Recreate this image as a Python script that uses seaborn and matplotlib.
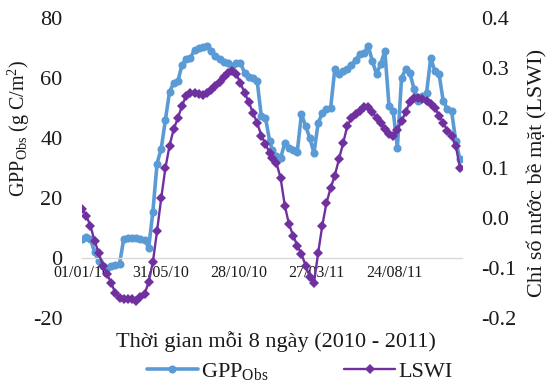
import numpy as np
import pandas as pd
import matplotlib
matplotlib.use("Agg")
import matplotlib.pyplot as plt
import matplotlib.dates as mdates
from matplotlib.ticker import FixedLocator, FuncFormatter
import seaborn as sns

# ---------------- data ----------------
# 8-day MODIS composites, 2010 - 2011 (46 per year)
dates_2010 = pd.date_range("2010-01-01", periods=46, freq="8D")
dates_2011 = pd.date_range("2011-01-01", periods=46, freq="8D")
dates = list(dates_2010) + list(dates_2011)

gpp_obs = [6.5, 7.0, 6.5, 2.0, -1.0, -2.5, -3.3, -2.7, -2.3, -2.0,
           6.3, 6.7, 6.7, 6.7, 6.5, 6.0, 3.5, 15.5, 31.5, 36.5,
           46.0, 55.5, 58.3, 59.0, 64.5, 66.3, 66.7, 69.5, 70.0, 70.5,
           70.7, 69.0, 67.3, 66.3, 65.5, 65.0, 64.0, 65.0, 65.0, 61.7,
           60.5, 60.0, 59.0, 47.3, 46.7, 39.0, 36.0, 34.0, 33.3, 38.3,
           36.7, 36.0, 35.5, 48.0, 44.0, 40.0, 35.0, 45.0, 48.3, 49.7,
           50.0, 63.0, 61.3, 62.3, 63.0, 64.5, 66.0, 68.0, 68.3, 70.7,
           65.7, 61.3, 64.7, 69.0, 50.7, 49.0, 36.7, 60.0, 63.0, 61.7,
           56.3, 52.3, 54.0, 55.0, 66.7, 62.3, 61.3, 52.3, 49.7, 49.0,
           39.0, 33.0]

lswi = [0.018, 0.005, -0.015, -0.045, -0.070, -0.095, -0.112, -0.130, -0.150, -0.160,
        -0.162, -0.162, -0.162, -0.166, -0.158, -0.152, -0.128, -0.088, -0.026, 0.040,
        0.100, 0.145, 0.178, 0.200, 0.225, 0.245, 0.250, 0.250, 0.248, 0.246,
        0.250, 0.256, 0.264, 0.273, 0.282, 0.290, 0.294, 0.288, 0.270, 0.250,
        0.232, 0.210, 0.190, 0.165, 0.148, 0.130, 0.120, 0.110, 0.080, 0.025,
        -0.012, -0.035, -0.055, -0.072, -0.095, -0.118, -0.130, -0.070, -0.015, 0.030,
        0.060, 0.085, 0.118, 0.150, 0.184, 0.200, 0.208, 0.215, 0.222, 0.222,
        0.212, 0.200, 0.190, 0.178, 0.168, 0.165, 0.176, 0.194, 0.212, 0.232,
        0.240, 0.240, 0.238, 0.234, 0.228, 0.220, 0.205, 0.190, 0.175, 0.164,
        0.145, 0.100]

x_tick_dates = ["2010-01-01", "2010-05-31", "2010-10-28", "2011-03-27", "2011-08-24"]
left_ticks = [-20, 0, 20, 40, 60, 80]
right_ticks = [-0.2, -0.1, 0.0, 0.1, 0.2, 0.3, 0.4]

df = pd.DataFrame({"date": dates, "gpp": gpp_obs, "lswi": lswi})

# ---------------- style ----------------
sns.set_style("white")
plt.rcParams["font.family"] = ["Liberation Serif", "DejaVu Serif"]
plt.rcParams["mathtext.fontset"] = "custom"
plt.rcParams["mathtext.rm"] = "Liberation Serif"
plt.rcParams["mathtext.it"] = "Liberation Serif:italic"
plt.rcParams["mathtext.bf"] = "Liberation Serif:bold"
plt.rcParams["axes.unicode_minus"] = False

BLUE = "#5B9BD5"
PURPLE = "#7030A0"
TXT = "#1a1a1a"

fig = plt.figure(figsize=(5.52, 3.84), dpi=100)
ax = fig.add_axes([82 / 552, 1 - 318 / 384, 380 / 552, 300 / 384])

sns.lineplot(data=df, x="date", y="gpp", ax=ax, color=BLUE, linewidth=2.6,
             marker="o", markersize=5.8, markeredgewidth=0, legend=False)
ax2 = ax.twinx()
sns.lineplot(data=df, x="date", y="lswi", ax=ax2, color=PURPLE, linewidth=1.7,
             marker="D", markersize=4.6, markeredgewidth=0, legend=False)

# axes ranges
ax.set_xlim(pd.Timestamp("2010-01-01"), pd.Timestamp("2011-12-31"))
ax.set_ylim(-20, 80)
ax2.set_ylim(-0.2, 0.4)

# spines
for s in ["top", "left", "right"]:
    ax.spines[s].set_visible(False)
for s in ax2.spines.values():
    s.set_visible(False)
ax.spines["bottom"].set_position(("data", 0))
ax.spines["bottom"].set_color("#d9d9d9")
ax.spines["bottom"].set_linewidth(1.0)

# ticks
ax.set_xticks([pd.Timestamp(d) for d in x_tick_dates])
ax.xaxis.set_major_formatter(mdates.DateFormatter("%d/%m/%y"))
ax.tick_params(axis="x", length=0, labelsize=11.5, pad=5, colors=TXT)
ax.yaxis.set_major_locator(FixedLocator(left_ticks))
ax.tick_params(axis="y", length=0, labelsize=16, pad=14, colors=TXT)
ax2.yaxis.set_major_locator(FixedLocator(right_ticks))
ax2.yaxis.set_major_formatter(FuncFormatter(lambda v, p: f"{v:.1f}"))
ax2.tick_params(axis="y", length=0, labelsize=16, pad=14, colors=TXT)
ax.grid(False)
ax2.grid(False)

# labels
ax.set_xlabel("Thời gian mỗi 8 ngày (2010 - 2011)", fontsize=16, color=TXT)
ax.xaxis.set_label_coords(0.51, -0.045)
ax.set_ylabel(r"GPP$_{\mathrm{Obs}}$ (g C/m$^{2}$)", fontsize=14.5, color=TXT)
ax.yaxis.set_label_coords(-0.132, 0.633)
ax2.set_ylabel("Chỉ số nước bề mặt (LSWI)", fontsize=16, color=TXT, rotation=90)
ax2.yaxis.set_label_coords(1.172, 0.483)

# legend
h1 = ax.lines[0]
h2 = ax2.lines[0]
fig.legend([h1, h2], [r"GPP$_{\mathrm{Obs}}$", "LSWI"], loc="center",
           bbox_to_anchor=(0.543, 0.033), ncol=2, frameon=False, fontsize=16,
           handlelength=2.3, handletextpad=0.15, columnspacing=3.4,
           labelcolor=TXT)

fig.savefig("out.png", dpi=100)
